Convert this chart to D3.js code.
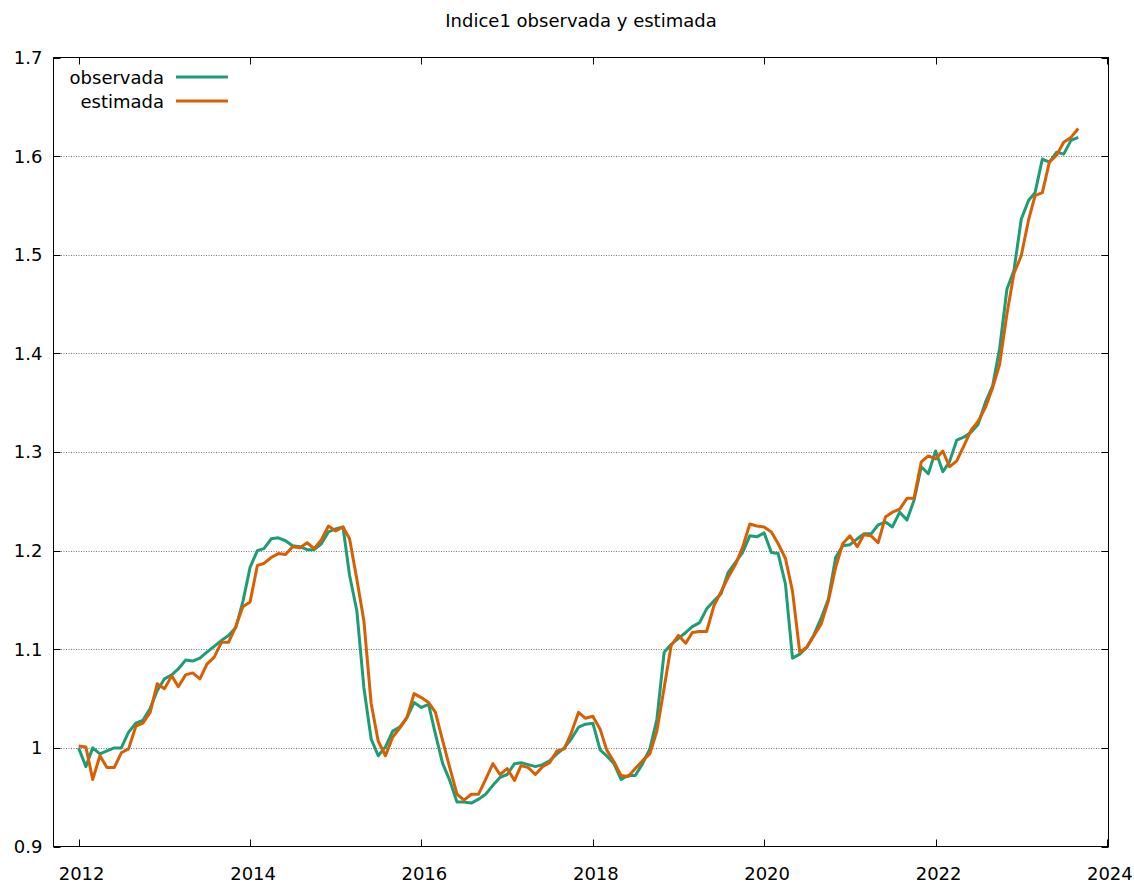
<!DOCTYPE html>
<html>
<head>
<meta charset="utf-8">
<script src="https://cdn.jsdelivr.net/npm/d3@7"></script>
<style>
  body { margin: 0; background: #fff; }
  svg { display: block; }
  text { font-family: "DejaVu Sans", Verdana, sans-serif; font-size: 18px; fill: #000; }
</style>
</head>
<body>
<svg id="chart" width="1134" height="883"></svg>
<script>
// monthly series, Jan 2012 .. Sep 2023
const firstMonth = "2012-01";
const observada = [
  1.000, 0.981, 1.000, 0.994, 0.997, 1.000, 1.000, 1.016, 1.025, 1.028,
  1.040, 1.058, 1.070, 1.074, 1.080, 1.089, 1.088, 1.091, 1.097, 1.103,
  1.109, 1.114, 1.122, 1.148, 1.183, 1.200, 1.202, 1.212, 1.213, 1.210,
  1.205, 1.204, 1.201, 1.201, 1.207, 1.219, 1.222, 1.224, 1.175, 1.139,
  1.061, 1.009, 0.992, 1.001, 1.017, 1.021, 1.031, 1.046, 1.041, 1.044,
  1.014, 0.984, 0.967, 0.945, 0.945, 0.944, 0.948, 0.953, 0.962, 0.970,
  0.973, 0.984, 0.985, 0.983, 0.981, 0.983, 0.987, 0.994, 1.000, 1.009,
  1.021, 1.024, 1.025, 0.998, 0.992, 0.984, 0.968, 0.972, 0.972, 0.984,
  0.999, 1.029, 1.097, 1.105, 1.111, 1.117, 1.123, 1.127, 1.141, 1.149,
  1.156, 1.178, 1.188, 1.198, 1.215, 1.214, 1.218, 1.198, 1.197, 1.166,
  1.091, 1.095, 1.102, 1.115, 1.132, 1.151, 1.193, 1.205, 1.206, 1.212,
  1.217, 1.217, 1.226, 1.229, 1.224, 1.239, 1.231, 1.251, 1.285, 1.278,
  1.301, 1.280, 1.290, 1.312, 1.315, 1.320, 1.328, 1.350, 1.367, 1.405,
  1.465, 1.484, 1.536, 1.555, 1.563, 1.597, 1.594, 1.604, 1.602, 1.616,
  1.619
];
const estimada = [
  1.002, 1.001, 0.968, 0.992, 0.980, 0.980, 0.995, 0.999, 1.022, 1.025,
  1.036, 1.065, 1.060, 1.073, 1.062, 1.074, 1.076, 1.070, 1.085, 1.092,
  1.107, 1.107, 1.123, 1.143, 1.148, 1.185, 1.187, 1.193, 1.197, 1.196,
  1.204, 1.203, 1.208, 1.202, 1.211, 1.225, 1.220, 1.224, 1.212, 1.171,
  1.129, 1.045, 1.007, 0.992, 1.011, 1.020, 1.031, 1.055, 1.051, 1.046,
  1.036, 1.007, 0.980, 0.953, 0.947, 0.953, 0.953, 0.968, 0.984, 0.973,
  0.979, 0.967, 0.982, 0.980, 0.973, 0.981, 0.985, 0.997, 0.999, 1.015,
  1.036, 1.030, 1.032, 1.019, 0.998, 0.986, 0.972, 0.971, 0.979, 0.987,
  0.994, 1.017, 1.061, 1.104, 1.114, 1.106, 1.117, 1.118, 1.118, 1.144,
  1.158, 1.173, 1.186, 1.203, 1.227, 1.225, 1.224, 1.219, 1.207, 1.192,
  1.159, 1.097, 1.102, 1.114, 1.126, 1.149, 1.183, 1.207, 1.215, 1.204,
  1.216, 1.215, 1.208, 1.234, 1.239, 1.242, 1.253, 1.253, 1.290, 1.296,
  1.293, 1.301, 1.285, 1.291, 1.306, 1.322, 1.331, 1.345, 1.365, 1.389,
  1.440, 1.481, 1.499, 1.535, 1.560, 1.563, 1.594, 1.601, 1.614, 1.619,
  1.628
];
const seriesNames = ["observada", "estimada"];
const seriesColors = ["#1b9e77", "#d95f02"];
const yTicks = [0.9, 1.0, 1.1, 1.2, 1.3, 1.4, 1.5, 1.6, 1.7];
const yTickLabels = ["0.9", "1", "1.1", "1.2", "1.3", "1.4", "1.5", "1.6", "1.7"];
const xTickYears = [2012, 2014, 2016, 2018, 2020, 2022, 2024];
const title = "Indice1 observada y estimada";

const svg = d3.select("#chart");
const plotL = 53.5, plotR = 1108.5, plotT = 57.5, plotB = 846.5;
const TICK = 7;

const parseMonth = d3.timeParse("%Y-%m");
const months = observada.map((v, i) => d3.timeMonth.offset(parseMonth(firstMonth), i));

const x = d3.scaleTime()
  .domain([new Date(2011, 8, 16), new Date(2024, 0, 8)])
  .range([plotL, plotR]);
const y = d3.scaleLinear().domain([0.9, 1.7]).range([plotB, plotT]);

// grid
svg.append("g").selectAll("line")
  .data(yTicks.filter(t => t > 0.9 && t < 1.7))
  .join("line")
  .attr("x1", plotL).attr("x2", plotR)
  .attr("y1", d => Math.round(y(d)) + 0.5).attr("y2", d => Math.round(y(d)) + 0.5)
  .attr("stroke", "#777").attr("stroke-width", 1)
  .attr("stroke-dasharray", "1,1.5");

// ticks (inside, mirrored)
const tk = svg.append("g").attr("stroke", "#000").attr("stroke-width", 1);
yTicks.forEach(t => {
  const yy = Math.round(y(t)) + 0.5;
  tk.append("line").attr("x1", plotL).attr("x2", plotL + TICK).attr("y1", yy).attr("y2", yy);
  tk.append("line").attr("x1", plotR).attr("x2", plotR - TICK).attr("y1", yy).attr("y2", yy);
});
xTickYears.forEach(yr => {
  const xx = Math.round(x(new Date(yr, 0, 1))) + 0.5;
  tk.append("line").attr("x1", xx).attr("x2", xx).attr("y1", plotB).attr("y2", plotB - TICK);
  tk.append("line").attr("x1", xx).attr("x2", xx).attr("y1", plotT).attr("y2", plotT + TICK);
});

// tick labels
svg.append("g").selectAll("text")
  .data(yTicks)
  .join("text")
  .attr("x", plotL - 11)
  .attr("y", d => y(d))
  .attr("dy", "0.36em")
  .attr("text-anchor", "end")
  .text((d, i) => yTickLabels[i]);

svg.append("g").selectAll("text")
  .data(xTickYears)
  .join("text")
  .attr("x", d => x(new Date(d, 0, 1)) + 3)
  .attr("y", plotB + 33)
  .attr("text-anchor", "middle")
  .text(d => d);

// border
svg.append("rect")
  .attr("x", plotL).attr("y", plotT)
  .attr("width", plotR - plotL).attr("height", plotB - plotT)
  .attr("fill", "none").attr("stroke", "#000").attr("stroke-width", 1);

// lines
const line = d3.line()
  .x((d, i) => x(months[i]))
  .y(d => y(d));

[observada, estimada].forEach((s, k) => {
  svg.append("path")
    .attr("d", line(s))
    .attr("fill", "none")
    .attr("stroke", seriesColors[k])
    .attr("stroke-width", 3)
    .attr("stroke-linejoin", "round");
});

// legend
seriesNames.forEach((name, k) => {
  const ly = 78 + k * 24;
  svg.append("text")
    .attr("x", 164).attr("y", ly)
    .attr("dy", "0.36em")
    .attr("text-anchor", "end")
    .text(name);
  svg.append("line")
    .attr("x1", 176).attr("x2", 228)
    .attr("y1", ly - 1).attr("y2", ly - 1)
    .attr("stroke", seriesColors[k]).attr("stroke-width", 3);
});

// title
svg.append("text")
  .attr("x", (plotL + plotR) / 2)
  .attr("y", 27)
  .attr("text-anchor", "middle")
  .text(title);
</script>
</body>
</html>
